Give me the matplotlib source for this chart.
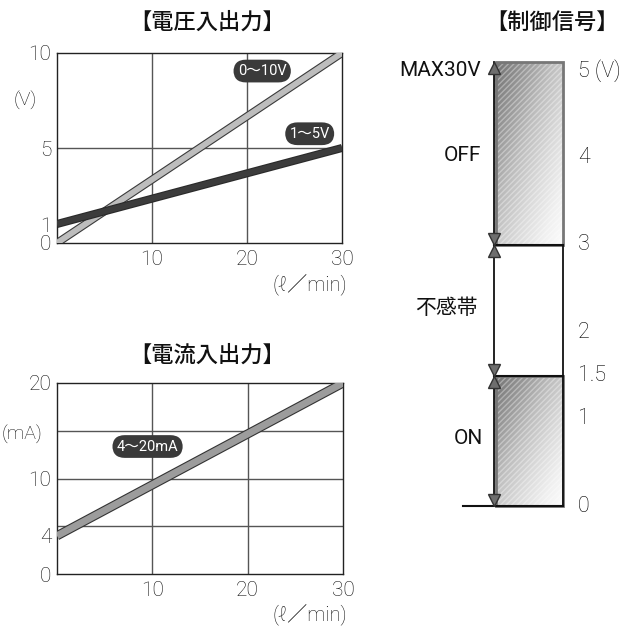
import numpy as np
import matplotlib
matplotlib.use("Agg")
import matplotlib.pyplot as plt
import matplotlib.patheffects as pe
from matplotlib.patches import Rectangle

plt.rcParams['font.family'] = ['Roboto', 'Noto Sans CJK JP', 'DejaVu Sans']

# ---------------- data ----------------
flow_x = [0, 30]                     # l/min
volt_0_10 = [0, 10]                  # V
volt_1_5 = [1, 5]                    # V
curr_4_20 = [4, 20]                  # mA

volt_yticks = [0, 1, 5, 10]
volt_ygrid = [5]
curr_yticks = [0, 4, 10, 20]
curr_ygrid = [5, 10, 15]
flow_xticks = [10, 20, 30]

sig_ticks = [0, 1, 1.5, 2, 3, 4, 5]
sig_ticklabels = ['0', '1', '1.5', '2', '3', '4', '5 (V)']
on_range = [0, 1.5]
off_range = [3, 5.1]

W, H = 643, 629
fig = plt.figure(figsize=(W / 100, H / 100), dpi=100)

def px_rect(l, t, r, b):
    return [l / W, (H - b) / H, (r - l) / W, (b - t) / H]

TXT = '#111111'
NUMSZ = 15
cjk = ['Noto Sans CJK JP', 'DejaVu Sans']

def line_chart(rect, ys_list, styles, yticks, ygrid, ymax, labels):
    ax = fig.add_axes(rect)
    ax.set_xlim(0, 30)
    ax.set_ylim(0, ymax)
    for g in flow_xticks[:-1]:
        ax.axvline(g, color='#555', lw=1, zorder=1)
    for g in ygrid:
        ax.axhline(g, color='#555', lw=1, zorder=1)
    for ys, (fc, ec, lw) in zip(ys_list, styles):
        ax.plot(flow_x, ys, color=fc, lw=lw, solid_capstyle='butt', zorder=3,
                path_effects=[pe.Stroke(linewidth=lw + 1.6, foreground=ec), pe.Normal()])
    ax.set_xticks(flow_xticks)
    ax.set_yticks(yticks)
    ax.tick_params(length=0, labelsize=NUMSZ, colors=TXT)
    ax.tick_params(axis='x', pad=5)
    ax.tick_params(axis='y', pad=4)
    for t in ax.get_xticklabels() + ax.get_yticklabels():
        t.set_fontweight('light')
    for s in ax.spines.values():
        s.set_color('#222')
        s.set_linewidth(1)
    for (txt, x, y) in labels:
        ax.text(x, y, txt, ha='center', va='center', color='white', fontsize=10.5,
                zorder=5,
                bbox=dict(boxstyle='round,pad=0.3,rounding_size=0.85', fc='#3a3a3a', ec='none'))
    return ax

ax1 = line_chart(px_rect(57, 53, 342, 243), [volt_0_10, volt_1_5],
                 [('#bdbdbd', '#3a3a3a', 4.2), ('#3c3c3c', '#2a2a2a', 4.2)],
                 volt_yticks, volt_ygrid, 10,
                 [('0〜10V', 21.6, 9.05), ('1〜5V', 26.6, 5.75)])
ax2 = line_chart(px_rect(57, 383, 343, 574), [curr_4_20],
                 [('#9c9c9c', '#333333', 5.0)],
                 curr_yticks, curr_ygrid, 20,
                 [('4〜20mA', 9.5, 13.35)])

# titles / axis units
TSZ = 16
fig.text(207 / W, 1 - 22 / H, '【電圧入出力】', ha='center', va='center', fontsize=TSZ,
         family=cjk, fontweight='medium', color=TXT)
fig.text(207 / W, 1 - 355 / H, '【電流入出力】', ha='center', va='center', fontsize=TSZ,
         family=cjk, fontweight='medium', color=TXT)
fig.text(552 / W, 1 - 22 / H, '【制御信号】', ha='center', va='center', fontsize=TSZ,
         family=cjk, fontweight='medium', color=TXT)
fig.text(25 / W, 1 - 100 / H, '(V)', ha='center', va='center', fontsize=14,
         fontweight='light', color=TXT)
fig.text(22 / W, 1 - 435 / H, '(mA)', ha='center', va='center', fontsize=14,
         fontweight='light', color=TXT)
for yy in (285, 615):
    fig.text(310 / W, 1 - yy / H, '(ℓ／min)', ha='center', va='center', fontsize=14.5,
             family=['Roboto', 'Noto Sans CJK JP', 'DejaVu Sans'], fontweight='light', color=TXT)

# ---------------- control signal panel ----------------
top_px, bot_px = 50, 520
v0_px, v5_px = 506, 71
vpp = 5 / (v0_px - v5_px)
ax3 = fig.add_axes(px_rect(400, top_px, 643, bot_px))
xlim = (400, 643)
ylim = (0 - (bot_px - v0_px) * vpp, 5 + (v5_px - top_px) * vpp)
ax3.axis('off')

xl, xr = 494, 563
grad = np.add.outer(np.linspace(0, 1, 100), np.linspace(0, 1, 60)) / 2  # diagonal
for (y0, y1) in (on_range, off_range):
    ax3.imshow(grad, cmap='Greys_r', vmin=-0.6, vmax=1.05, extent=[xl, xr, y0, y1],
               origin='upper', aspect='auto', zorder=1, interpolation='bilinear')
    ax3.add_patch(Rectangle((xl, y0), xr - xl, y1 - y0, fc='none', ec=(1, 1, 1, 0.35),
                            hatch='//////', lw=0, zorder=2))
    ax3.add_patch(Rectangle((xl + 1.5, y0), xr - xl - 1.5, y1 - y0, fc='none', ec='#777',
                            lw=2, zorder=3))
ax3.set_xlim(*xlim)
ax3.set_ylim(*ylim)

# frame lines
ax3.plot([xl, xl], [on_range[0], off_range[1]], color='#111', lw=1.3, zorder=4)
ax3.plot([xr, xr], [on_range[0], off_range[0]], color='#111', lw=1.3, zorder=4)
ax3.plot([xl, xr], [off_range[0]] * 2, color='#111', lw=1.5, zorder=4)
ax3.plot([xl, xr], [on_range[1]] * 2, color='#111', lw=1.5, zorder=4)
ax3.plot([463, xr], [on_range[0]] * 2, color='#111', lw=1.5, zorder=4)

# arrow heads
dh = 6 * vpp
mk = dict(markersize=9, markerfacecolor='#6e6e6e', markeredgecolor='#333',
          markeredgewidth=1, linestyle='none', zorder=5)
ax3.plot([xl], [off_range[1] - dh], marker='^', **mk)
for lvl in (off_range[0], on_range[1]):
    ax3.plot([xl], [lvl + dh], marker='v', **mk)
    ax3.plot([xl], [lvl - dh], marker='^', **mk)
ax3.plot([xl], [on_range[0] + dh], marker='v', **mk)

# right scale labels
for v, s in zip(sig_ticks, sig_ticklabels):
    ax3.text(578, v, s, ha='left', va='center', fontsize=NUMSZ + 0.5, fontweight='light',
             color='#000')

# side labels
LSZ = 15
ax3.text(481, 5.0, 'MAX30V', ha='right', va='center', fontsize=LSZ, color='#111')
ax3.text(462, 4.03, 'OFF', ha='center', va='center', fontsize=LSZ, color='#111')
ax3.text(446, 2.28, '不感帯', ha='center', va='center', fontsize=LSZ, family=cjk, color='#111')
ax3.text(468, 0.78, 'ON', ha='center', va='center', fontsize=LSZ, color='#111')

fig.savefig('out.png', dpi=100)
